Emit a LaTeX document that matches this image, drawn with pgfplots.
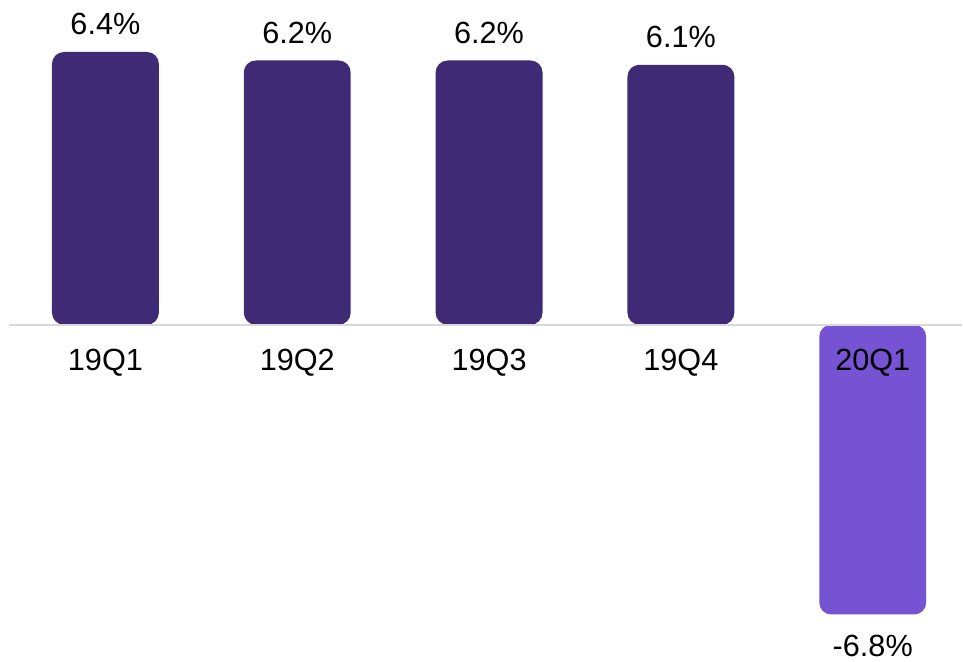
\documentclass[border=0pt]{standalone}
\usepackage{pgfplots}
\pgfplotsset{compat=1.18}
\usepackage{fontspec}
\setmainfont{Liberation Sans}
\definecolor{darkbar}{RGB}{63,42,118}
\definecolor{lightbar}{RGB}{117,83,211}
\definecolor{baseline}{RGB}{217,217,217}
\makeatletter
\def\pgfpathrectanglecorners#1#2{%
  \pgf@process{#1}\edef\my@xa{\the\pgf@x}\edef\my@ya{\the\pgf@y}%
  \pgf@process{#2}\edef\my@xb{\the\pgf@x}\edef\my@yb{\the\pgf@y}%
  \pgfpathmoveto{\pgfqpoint{\my@xa}{\my@ya}}%
  \pgfpathlineto{\pgfqpoint{\my@xb}{\my@ya}}%
  \pgfpathlineto{\pgfqpoint{\my@xb}{\my@yb}}%
  \pgfpathlineto{\pgfqpoint{\my@xa}{\my@yb}}%
  \pgfpathclose}
\makeatother
\begin{document}
\begin{tikzpicture}
\begin{axis}[
  width=715.125pt, height=495.75pt, scale only axis,
  xmin=-0.5, xmax=4.4661, ymin=-7.878, ymax=7.620,
  axis x line=middle, axis y line=none,
  axis line style={-, draw=baseline, line width=1.3pt},
  xtick={0,1,2,3,4}, xticklabels={19Q1,19Q2,19Q3,19Q4,20Q1},
  major tick length=0pt, ytick=\empty,
  xticklabel style={anchor=center, yshift=-28.5pt, font=\fontsize{23}{27}\selectfont},
  ybar, bar width=80.25pt, bar shift=0pt,
  clip=false, axis on top,
  nodes near coords={\pgfmathprintnumber[fixed,precision=1,fixed zerofill]{\pgfplotspointmeta}\%},
  nodes near coords align=center,
  every node near coord/.append style={font=\fontsize{23}{27}\selectfont, text=black},
  /pgf/number format/assume math mode=true,
]
\addplot[fill=darkbar, draw=none, rounded corners=9pt,
  every node near coord/.append style={anchor=center, yshift=21pt}]
  coordinates {(0,6.4) (1,6.2) (2,6.2) (3,6.1)};
\addplot[fill=lightbar, draw=none, rounded corners=9pt,
  every node near coord/.append style={anchor=center, yshift=-24pt}]
  coordinates {(4,-6.8)};
\path ([xshift=-7.125pt]rel axis cs:0,0) rectangle (rel axis cs:1,1);
\end{axis}
\end{tikzpicture}
\end{document}
